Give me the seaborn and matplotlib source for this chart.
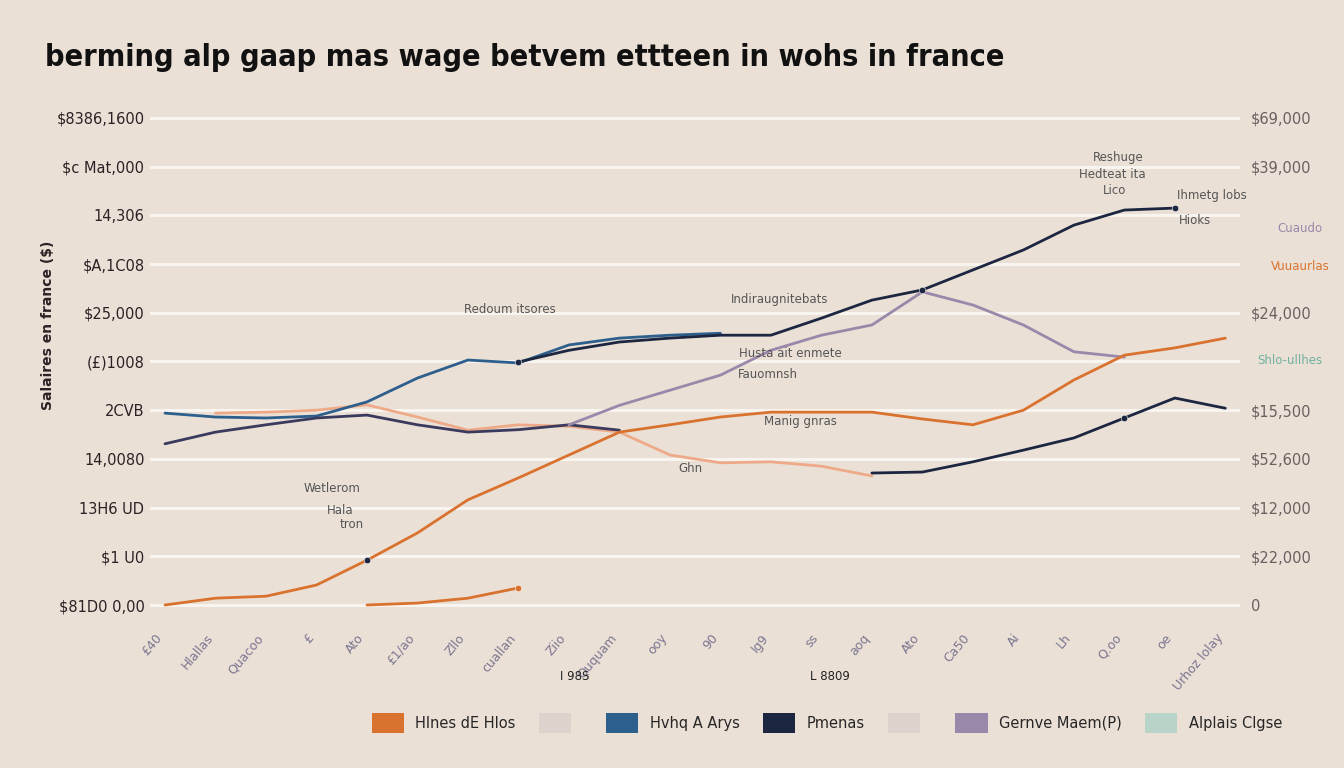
import numpy as np
import pandas as pd
import matplotlib.pyplot as plt
import seaborn as sns
from matplotlib.patches import Patch

# data (values in $)
x = list(range(22))
x_labels = ['£40', 'Hlallas', 'Quacoo', '£', 'Ato', '£1/ao', 'Zllo', 'cuallan', 'Ziio', 'Ququam',
            'ooy', '90', 'Ig9', 'ss', 'aoq', 'Ato', 'Ca50', 'Ai', 'Lh', 'Q.oo', 'oe', 'Urhoz lolay']
nan = np.nan
orange_main = [0, 1400, 1800, 4100, 9200, 14800, 21600, 26100, 30800, 35500, 37000,
               38600, 39600, 39600, 39600, 38200, 37000, 40000, 46200, 51300, 52800, 54800]
orange_low = [nan, nan, nan, nan, 0, 400, 1400, 3500] + [nan] * 14
peach = [nan, 39400, 39600, 40000, 41100, 38600, 35900, 37000, 36700, 35500, 30800,
         29200, 29400, 28500, 26500] + [nan] * 7
blue = [39400, 38600, 38400, 38800, 41700, 46600, 50300, 49700, 53400, 54800, 55400, 55800] + [nan] * 10
navy_left = [33100, 35500, 37000, 38400, 39000, 37000, 35500, 36000, 37000, 35900] + [nan] * 12
navy_top = [nan] * 7 + [49900, 52300, 54000, 54800, 55400, 55400, 58900, 62600, 64700,
                        68800, 72900, 78000, 81100, 81500, nan]
navy_low = [nan] * 14 + [27100, 27300, 29400, 31800, 34300, 38400, 42500, 40400]
purple = [nan] * 8 + [37000, 41000, 44100, 47200, 52300, 55400, 57500, 64300, 61600,
                      57500, 52000, 50900, nan, nan]

left_ticks = [0, 10000, 20000, 30000, 40000, 50000, 60000, 70000, 80000, 90000, 100000]
left_labels = ['$81D0 0,00', '$1 U0', '13H6 UD', '14,0080', '2CVB', '(£)1008',
               '$25,000', '$A,1C08', '14,306', '$c Mat,000', '$8386,1600']
right_ticks = [0, 10000, 20000, 30000, 40000, 60000, 90000, 100000]
right_labels = ['0', '$22,000', '$12,000', '$52,600', '$15,500', '$24,000', '$39,000', '$69,000']

legend_labels = ['Hlnes dE Hlos', '', 'Hvhq A Arys', 'Pmenas', '', 'Gernve Maem(P)', 'Alplais Clgse']
legend_colors = ['#d9722e', '#ddd3cd', '#2d5f8c', '#1c2640', '#ddd3cd', '#9a88aa', '#b8d3c8']

bg = '#ebe0d6'
sns.set_theme(style='white')
plt.rcParams['font.family'] = ['DejaVu Sans']

fig = plt.figure(figsize=(13.44, 7.68), dpi=100)
fig.patch.set_facecolor(bg)
ax = fig.add_axes([150 / 1344, (768 - 615) / 768, 1090 / 1344, 510 / 768])
ax.set_facecolor(bg)

lines = [
    (peach, '#eeaa88'),
    (orange_low, '#d9722e'),
    (blue, '#2d5f8c'),
    (navy_left, '#3a3a5e'),
    (purple, '#9a88aa'),
    (orange_main, '#d9722e'),
    (navy_top, '#1c2640'),
    (navy_low, '#1c2640'),
]
for vals, col in lines:
    df = pd.DataFrame({'x': x, 'y': vals})
    sns.lineplot(data=df, x='x', y='y', color=col, linewidth=2.0, ax=ax, legend=False)

# a few highlighted points
dots = pd.DataFrame({'x': [7, 15, 20, 4, 19, 7],
                     'y': [navy_top[7], navy_top[15], navy_top[20], orange_main[4], navy_low[19], orange_low[7]],
                     'c': ['#1c2640', '#1c2640', '#1c2640', '#1c2640', '#1c2640', '#d9722e']})
for _, r in dots.iterrows():
    sns.scatterplot(x=[r['x']], y=[r['y']], color=r['c'], s=22, ax=ax, legend=False, zorder=5)

ax.set_xlim(-0.297, 21.29)
ax.set_ylim(-2053, 102669)
ax.set_yticks(left_ticks)
ax.set_yticklabels(left_labels, fontsize=10.5, color='#2a2224')
ax.set_xticks(x)
ax.set_xticklabels(x_labels, rotation=50, ha='right', fontsize=9, color='#7a7690')
ax.tick_params(axis='both', length=0)
ax.tick_params(axis='y', pad=4)
ax.tick_params(axis='x', pad=12)
ax.yaxis.grid(True, color='#f8f4f0', linewidth=2.2)
ax.xaxis.grid(False)
for s in ax.spines.values():
    s.set_visible(False)
ax.set_xlabel('')
ax.set_ylabel('')

ax2 = ax.twinx()
ax2.set_ylim(ax.get_ylim())
ax2.set_yticks(right_ticks)
ax2.set_yticklabels(right_labels, fontsize=10.5, color='#6b6060')
ax2.tick_params(axis='y', length=0, pad=8)
for s in ax2.spines.values():
    s.set_visible(False)
ax2.grid(False)

fig.text(45 / 1344, 1 - 57 / 768, 'berming alp gaap mas wage betvem ettteen in wohs in france',
         fontsize=22, fontweight='bold', color='#111111', va='center', ha='left',
         fontstretch='condensed')
fig.text(48 / 1344, 1 - 325 / 768, 'Salaires en france ($)', rotation=90, fontsize=10,
         fontweight='bold', color='#2a2224', ha='center', va='center')

# scattered annotation texts
notes = [
    (510, 310, 'Redoum itsores', '#555555'), (780, 299, 'Indiraugnitebats', '#555555'),
    (790, 353, 'Husta ait enmete', '#555555'), (768, 374, 'Fauomnsh', '#555555'),
    (800, 422, 'Manig gnras', '#555555'), (690, 468, 'Ghn', '#555555'),
    (332, 488, 'Wetlerom', '#555555'), (340, 510, 'Hala', '#555555'), (352, 524, 'tron', '#555555'),
    (1118, 157, 'Reshuge', '#555555'), (1112, 175, 'Hedteat ita', '#555555'), (1115, 190, 'Lico', '#555555'),
    (1212, 195, 'Ihmetg lobs', '#555555'), (1195, 220, 'Hioks', '#555555'),
    (1300, 228, 'Cuaudo', '#9a88aa'), (1300, 267, 'Vuuaurlas', '#d9722e'), (1290, 360, 'Shlo-ullhes', '#6fb0a0'),
    (575, 677, 'I 98S', '#222222'), (830, 677, 'L 8809', '#222222'),
]
for px, py, txt, col in notes:
    fig.text(px / 1344, 1 - py / 768, txt, fontsize=8.5, color=col, ha='center', va='center')

fig.legend([Patch(facecolor=c, edgecolor='none') for c in legend_colors], legend_labels,
           loc='center', bbox_to_anchor=(827 / 1344, 1 - 723 / 768), ncol=7, frameon=False,
           fontsize=10.5, handlelength=2.2, handleheight=1.7, columnspacing=1.6, handletextpad=0.8)

fig.savefig('out.png', dpi=100, facecolor=bg)
